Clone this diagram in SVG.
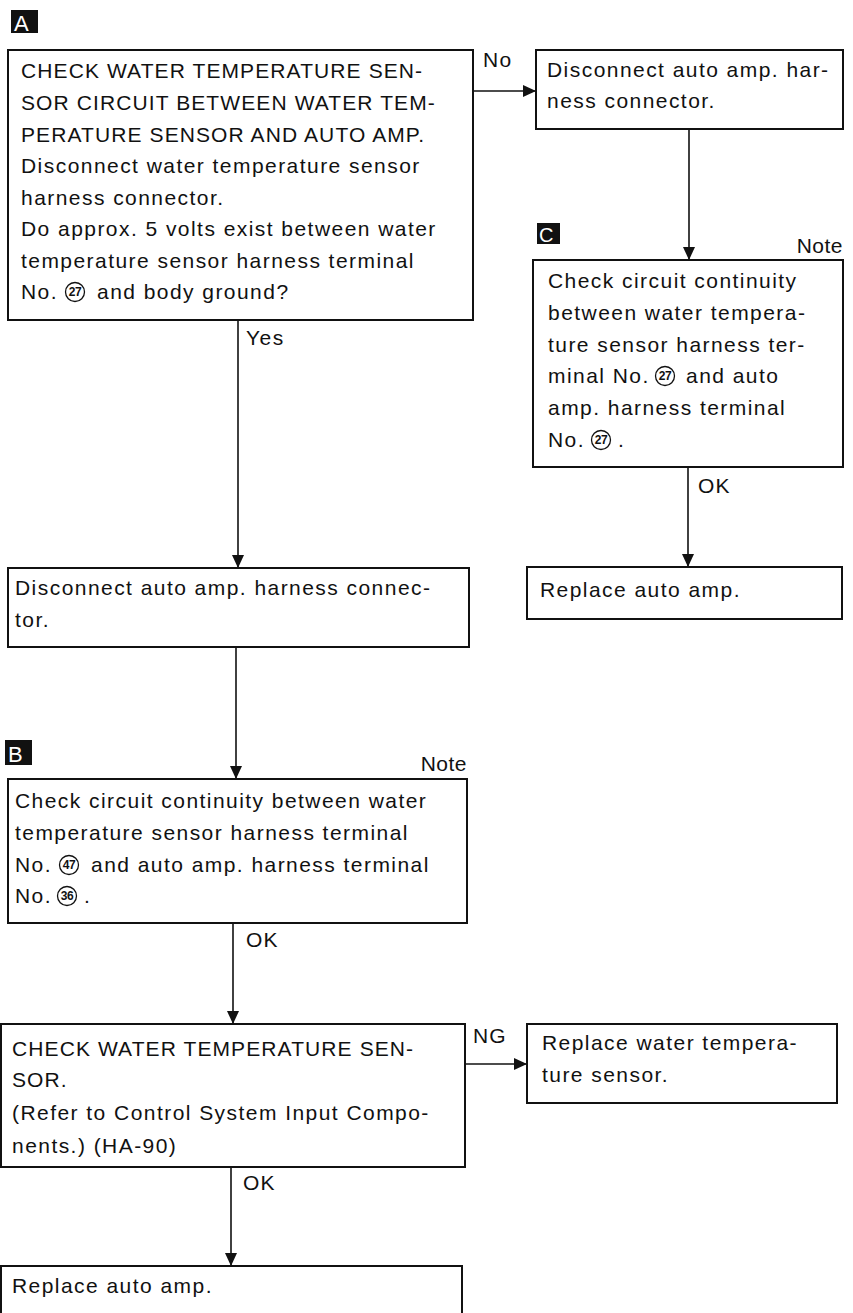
<svg xmlns="http://www.w3.org/2000/svg" width="853" height="1313" viewBox="0 0 853 1313">
<style>
text{font-family:"Liberation Sans",Arial,sans-serif;font-size:21px;fill:#111;letter-spacing:1.45px}
text.up{letter-spacing:1.1px}
.box{fill:none;stroke:#111;stroke-width:2}
.ln{stroke:#111;stroke-width:1.6;fill:none}
.tag{fill:#111}
text.tagt{fill:#fff;font-size:22px;letter-spacing:0}
.circ{fill:none;stroke:#111;stroke-width:1.3}
text.cn{font-size:12px;font-weight:bold;letter-spacing:-0.5px}
</style>
<defs>
<marker id="ah" markerUnits="userSpaceOnUse" markerWidth="14" markerHeight="12" refX="13" refY="6" orient="auto">
<path d="M0,0 L13,6 L0,12 Z" fill="#111"/>
</marker>
</defs>
<rect width="853" height="1313" fill="#fff"/>

<g id="connectors">
<line class="ln" x1="473" y1="91" x2="536" y2="91" marker-end="url(#ah)"/>
<text x="483" y="67">No</text>
<line class="ln" x1="689" y1="129" x2="689" y2="260" marker-end="url(#ah)"/>
<line class="ln" x1="688" y1="467" x2="688" y2="567" marker-end="url(#ah)"/>
<text class="up" x="698" y="493">OK</text>
<line class="ln" x1="238" y1="320" x2="238" y2="568" marker-end="url(#ah)"/>
<text x="246" y="345">Yes</text>
<line class="ln" x1="236" y1="647" x2="236" y2="779" marker-end="url(#ah)"/>
<line class="ln" x1="233" y1="923" x2="233" y2="1024" marker-end="url(#ah)"/>
<text class="up" x="246" y="947">OK</text>
<line class="ln" x1="465" y1="1064" x2="527" y2="1064" marker-end="url(#ah)"/>
<text class="up" x="473" y="1043">NG</text>
<line class="ln" x1="231" y1="1167" x2="231" y2="1266" marker-end="url(#ah)"/>
<text class="up" x="243" y="1190">OK</text>
</g>

<g id="tagA">
<rect class="tag" x="11" y="10" width="27" height="23"/>
<text class="tagt" x="14" y="31">A</text>
</g>
<g id="nodeA">
<rect class="box" x="8" y="50" width="465" height="270"/>
<text class="up" x="21" y="78">CHECK WATER TEMPERATURE SEN-</text>
<text class="up" x="21" y="110">SOR CIRCUIT BETWEEN WATER TEM-</text>
<text class="up" x="21" y="142">PERATURE SENSOR AND AUTO AMP.</text>
<text x="21" y="173">Disconnect water temperature sensor</text>
<text x="21" y="205">harness connector.</text>
<text x="21" y="236">Do approx. 5 volts exist between water</text>
<text x="21" y="268">temperature sensor harness terminal</text>
<text x="21" y="299">No.</text>
<circle class="circ" cx="75" cy="292" r="9.5"/>
<text class="cn" x="75" y="296" text-anchor="middle">27</text>
<text x="97" y="299">and body ground?</text>
</g>

<g id="nodeR1">
<rect class="box" x="536" y="50" width="307" height="79"/>
<text x="547" y="77">Disconnect auto amp. har-</text>
<text x="547" y="108">ness connector.</text>
</g>

<g id="tagC">
<rect class="tag" x="537" y="223" width="23" height="21"/>
<text class="tagt" x="539" y="242" style="font-size:20px">C</text>
</g>
<text x="843" y="253" text-anchor="end" style="letter-spacing:0.5px">Note</text>
<g id="nodeC">
<rect class="box" x="533" y="260" width="310" height="207"/>
<text x="548" y="288">Check circuit continuity</text>
<text x="548" y="320">between water tempera-</text>
<text x="548" y="352">ture sensor harness ter-</text>
<text x="548" y="383">minal No.</text>
<circle class="circ" cx="665" cy="376" r="9.5"/>
<text class="cn" x="665" y="380" text-anchor="middle">27</text>
<text x="686" y="383">and auto</text>
<text x="548" y="415">amp. harness terminal</text>
<text x="548" y="447">No.</text>
<circle class="circ" cx="601" cy="440" r="9.5"/>
<text class="cn" x="601" y="444" text-anchor="middle">27</text>
<text x="618" y="447">.</text>
</g>

<g id="nodeR2">
<rect class="box" x="527" y="567" width="315" height="52"/>
<text x="540" y="597">Replace auto amp.</text>
</g>

<g id="nodeDisc">
<rect class="box" x="8" y="568" width="461" height="79"/>
<text x="15" y="595">Disconnect auto amp. harness connec-</text>
<text x="15" y="627">tor.</text>
</g>

<g id="tagB">
<rect class="tag" x="5" y="740" width="27" height="25"/>
<text class="tagt" x="8" y="762">B</text>
</g>
<text x="467" y="771" text-anchor="end" style="letter-spacing:0.5px">Note</text>
<g id="nodeB">
<rect class="box" x="8" y="779" width="459" height="144"/>
<text x="15" y="808">Check circuit continuity between water</text>
<text x="15" y="840">temperature sensor harness terminal</text>
<text x="15" y="872">No.</text>
<circle class="circ" cx="69" cy="865" r="9.5"/>
<text class="cn" x="69" y="869" text-anchor="middle">47</text>
<text x="91" y="872">and auto amp. harness terminal</text>
<text x="15" y="903">No.</text>
<circle class="circ" cx="67" cy="896" r="9.5"/>
<text class="cn" x="67" y="900" text-anchor="middle">36</text>
<text x="84" y="903">.</text>
</g>

<g id="nodeD">
<rect class="box" x="1" y="1024" width="464" height="143"/>
<text class="up" x="12" y="1056">CHECK WATER TEMPERATURE SEN-</text>
<text class="up" x="12" y="1087">SOR.</text>
<text x="12" y="1120">(Refer to Control System Input Compo-</text>
<text x="12" y="1153">nents.) (HA-90)</text>
</g>

<g id="nodeR3">
<rect class="box" x="527" y="1024" width="310" height="79"/>
<text x="542" y="1050">Replace water tempera-</text>
<text x="542" y="1082">ture sensor.</text>
</g>

<g id="nodeFinal">
<rect class="box" x="1" y="1266" width="461" height="70"/>
<text x="12" y="1293">Replace auto amp.</text>
</g>
</svg>
